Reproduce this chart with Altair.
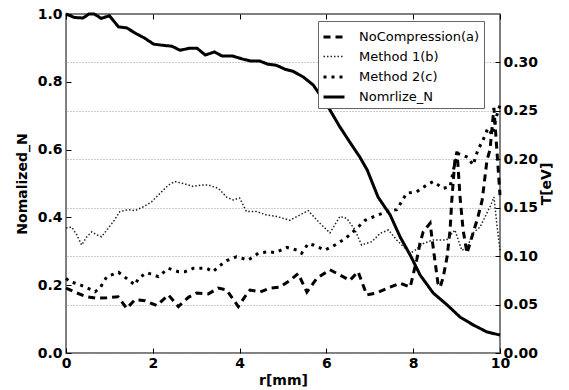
import altair as alt
import pandas as pd

# ---- data ----
series_names = ["NoCompression(a)", "Method 1(b)", "Method 2(c)", "Nomrlize_N"]

r_norm = [0, 0.19, 0.39, 0.53, 0.65, 0.81, 1.0, 1.21, 1.40, 1.63, 1.81, 2.02, 2.21, 2.44,
          2.63, 2.84, 3.02, 3.21, 3.42, 3.60, 3.84, 4.07, 4.26, 4.47, 4.65, 4.84, 5.05,
          5.23, 5.47, 5.70, 6.04, 6.31, 6.54, 6.77, 6.94, 7.19, 7.47, 7.70, 7.93, 8.16,
          8.46, 8.78, 9.08, 9.38, 9.70, 10.0]
norm_vals = [1.0, 0.99, 0.988, 1.0, 1.0, 0.987, 0.995, 0.962, 0.959, 0.941, 0.929, 0.911,
             0.908, 0.905, 0.893, 0.899, 0.899, 0.879, 0.888, 0.876, 0.876, 0.867, 0.861,
             0.861, 0.852, 0.849, 0.837, 0.831, 0.814, 0.790, 0.726, 0.667, 0.622, 0.578,
             0.540, 0.460, 0.407, 0.342, 0.289, 0.230, 0.177, 0.142, 0.106, 0.083, 0.062,
             0.053]

r_a = [0, 0.25, 0.48, 0.71, 0.94, 1.20, 1.40, 1.59, 1.82, 2.09, 2.36, 2.59, 2.82, 3.01,
       3.28, 3.51, 3.70, 3.97, 4.12, 4.24, 4.47, 4.70, 4.93, 5.16, 5.35, 5.55, 5.78, 6.08,
       6.31, 6.54, 6.73, 6.93, 7.16, 7.47, 7.70, 7.93, 8.08, 8.16, 8.23, 8.39, 8.46, 8.57,
       8.62, 8.69, 8.78, 8.85, 8.89, 8.96, 9.01, 9.08, 9.15, 9.24, 9.38, 9.49, 9.59, 9.70,
       9.77, 9.86, 10.0]
t_a = [0.067, 0.062, 0.058, 0.0565, 0.057, 0.058, 0.046, 0.055, 0.054, 0.049, 0.060,
       0.048, 0.0575, 0.062, 0.061, 0.067, 0.065, 0.048, 0.058, 0.065, 0.063, 0.067, 0.068,
       0.075, 0.082, 0.063, 0.077, 0.086, 0.0805, 0.075, 0.084, 0.060, 0.062, 0.068, 0.072,
       0.068, 0.096, 0.114, 0.125, 0.134, 0.109, 0.072, 0.068, 0.078, 0.099, 0.127, 0.158,
       0.199, 0.208, 0.161, 0.127, 0.103, 0.124, 0.140, 0.158, 0.199, 0.210, 0.253, 0.163]

r_b = [0, 0.13, 0.25, 0.36, 0.48, 0.59, 0.71, 0.82, 0.94, 1.09, 1.24, 1.44, 1.59, 1.78,
       1.97, 2.17, 2.36, 2.51, 2.70, 2.93, 3.13, 3.28, 3.51, 3.70, 3.85, 4.0, 4.16, 4.39,
       4.62, 4.85, 5.16, 5.39, 5.58, 5.85, 6.08, 6.31, 6.47, 6.66, 6.81, 7.05, 7.24, 7.43,
       7.62, 7.77, 7.93, 8.04, 8.23, 8.46, 8.77, 8.96, 9.12, 9.24, 9.38, 9.54, 9.77, 9.86,
       9.93, 10.0]
t_b = [0.129, 0.130, 0.122, 0.1115, 0.120, 0.125, 0.122, 0.120, 0.127, 0.1356, 0.146,
       0.148, 0.147, 0.151, 0.156, 0.165, 0.1734, 0.177, 0.175, 0.172, 0.1734, 0.1734,
       0.170, 0.161, 0.158, 0.160, 0.146, 0.146, 0.1425, 0.141, 0.137, 0.1425, 0.147,
       0.134, 0.124, 0.141, 0.139, 0.127, 0.1115, 0.115, 0.1236, 0.127, 0.1167, 0.110,
       0.103, 0.106, 0.113, 0.1167, 0.1167, 0.127, 0.106, 0.109, 0.124, 0.130, 0.151,
       0.161, 0.132, 0.106]

r_c = [0, 0.09, 0.28, 0.51, 0.67, 0.78, 0.94, 1.21, 1.44, 1.59, 1.67, 1.86, 2.13, 2.36,
       2.59, 2.74, 2.93, 3.24, 3.39, 3.51, 3.70, 3.93, 4.20, 4.43, 4.66, 4.82, 5.09, 5.32,
       5.43, 5.58, 5.70, 5.97, 6.20, 6.43, 6.66, 6.89, 7.16, 7.39, 7.62, 7.85, 8.08, 8.31,
       8.46, 8.69, 8.85, 8.96, 9.03, 9.26, 9.38, 9.49, 9.61, 9.72, 9.82, 9.91, 10.0]
t_c = [0.077, 0.0736, 0.0712, 0.0668, 0.0633, 0.0668, 0.0788, 0.0833, 0.0754, 0.0702,
       0.0771, 0.0829, 0.0788, 0.0874, 0.0839, 0.0839, 0.0874, 0.0874, 0.0839, 0.0891,
       0.0953, 0.0994, 0.096, 0.103, 0.1046, 0.1036, 0.109, 0.1063, 0.103, 0.113, 0.1115,
       0.1063, 0.1115, 0.118, 0.127, 0.137, 0.142, 0.146, 0.148, 0.165, 0.1665, 0.1734,
       0.177, 0.170, 0.1717, 0.196, 0.206, 0.202, 0.194, 0.2096, 0.220, 0.232, 0.225,
       0.243, 0.256]

x_ticks = [0, 2, 4, 6, 8, 10]
n_ticks = [0.0, 0.2, 0.4, 0.6, 0.8, 1.0]
t_ticks = [0.0, 0.05, 0.10, 0.15, 0.20, 0.25, 0.30]

# ---- tables ----
df_n = pd.DataFrame({"r": r_norm, "v": norm_vals, "series": series_names[3]})
df_t = pd.concat([
    pd.DataFrame({"r": r_a, "v": t_a, "series": series_names[0]}),
    pd.DataFrame({"r": r_b, "v": t_b, "series": series_names[1]}),
    pd.DataFrame({"r": r_c, "v": t_c, "series": series_names[2]}),
], ignore_index=True)

FONT = "DejaVu Sans"
dash_range = [[7, 5], [1.5, 2], [3, 5], [1, 0]]
width_range = [3, 1.5, 3, 3]
color_range = ["black", "#222222", "black", "black"]

x_scale = alt.Scale(domain=[0, 10], nice=False, zero=False)
yn_scale = alt.Scale(domain=[0, 1], nice=False)
yt_scale = alt.Scale(domain=[0, 0.35], nice=False)

legend = alt.Legend(
    title=None, orient="none", legendX=252, legendY=7, direction="vertical",
    symbolType="stroke", symbolSize=441, labelFont=FONT, labelFontSize=13,
    labelFontWeight="normal", labelColor="black", labelOffset=13, rowPadding=1,
    padding=4, fillColor="white", strokeColor="#666666",
)

def style_enc():
    return dict(
        strokeDash=alt.StrokeDash("series:N", scale=alt.Scale(domain=series_names, range=dash_range), legend=legend),
        strokeWidth=alt.StrokeWidth("series:N", scale=alt.Scale(type="ordinal", domain=series_names, range=width_range), legend=legend),
        color=alt.Color("series:N", scale=alt.Scale(domain=series_names, range=color_range), legend=legend),
    )

lab = dict(labelFont=FONT, labelFontSize=14, labelFontWeight="bold", labelColor="black",
           titleFont=FONT, titleFontSize=14, titleFontWeight="bold", titleColor="black",
           labelFlush=False, labelOverlap=False, domain=False, ticks=False)

n_line = alt.Chart(df_n).mark_line(clip=False).encode(
    x=alt.X("r:Q", scale=x_scale, axis=alt.Axis(orient="bottom", title="r[mm]", values=x_ticks,
            format="d", grid=False, labelPadding=3, titlePadding=3, **lab)),
    y=alt.Y("v:Q", scale=yn_scale, axis=alt.Axis(orient="left", title="Nomalized_N", values=n_ticks,
            format=".1f", grid=False, labelPadding=4, titlePadding=8, **lab)),
    **style_enc(),
)

t_lines = alt.Chart(df_t).mark_line(clip=False).encode(
    x=alt.X("r:Q", scale=x_scale, axis=None),
    y=alt.Y("v:Q", scale=yt_scale, axis=alt.Axis(orient="right", title="T[eV]", values=t_ticks,
            format=".2f", grid=True, gridDash=[1, 2], gridColor="#999999", gridWidth=1,
            labelPadding=3, titlePadding=16, titleAngle=270, **lab)),
    detail="series:N",
    **style_enc(),
)

tick_ax = dict(labels=False, domain=False, ticks=True, tickSize=5, tickColor="black",
               tickWidth=1, grid=False, title=None, offset=-5)

ticks_n = alt.Chart(df_n).mark_line(strokeOpacity=0).encode(
    x=alt.X("r:Q", scale=x_scale, axis=alt.Axis(orient="top", values=x_ticks, **tick_ax)),
    y=alt.Y("v:Q", scale=yn_scale, axis=alt.Axis(orient="left", values=n_ticks, **tick_ax)),
)
ticks_t = alt.Chart(df_n).mark_line(strokeOpacity=0).encode(
    x=alt.X("r:Q", scale=x_scale, axis=alt.Axis(orient="bottom", values=x_ticks, **tick_ax)),
    y=alt.Y("v:Q", scale=yt_scale, axis=alt.Axis(orient="right", values=t_ticks, **tick_ax)),
)

chart = alt.layer(n_line, t_lines, ticks_n, ticks_t).resolve_scale(
    y="independent"
).resolve_axis(x="independent", y="independent").properties(
    width=434, height=339,
    autosize=alt.AutoSizeParams(type="none"),
    padding={"left": 58, "top": 6, "right": 61, "bottom": 37},
    background="white",
).configure_view(stroke="#555555", strokeWidth=1.5)

chart.save("out.html", embed_options={"renderer": "svg", "actions": False})
